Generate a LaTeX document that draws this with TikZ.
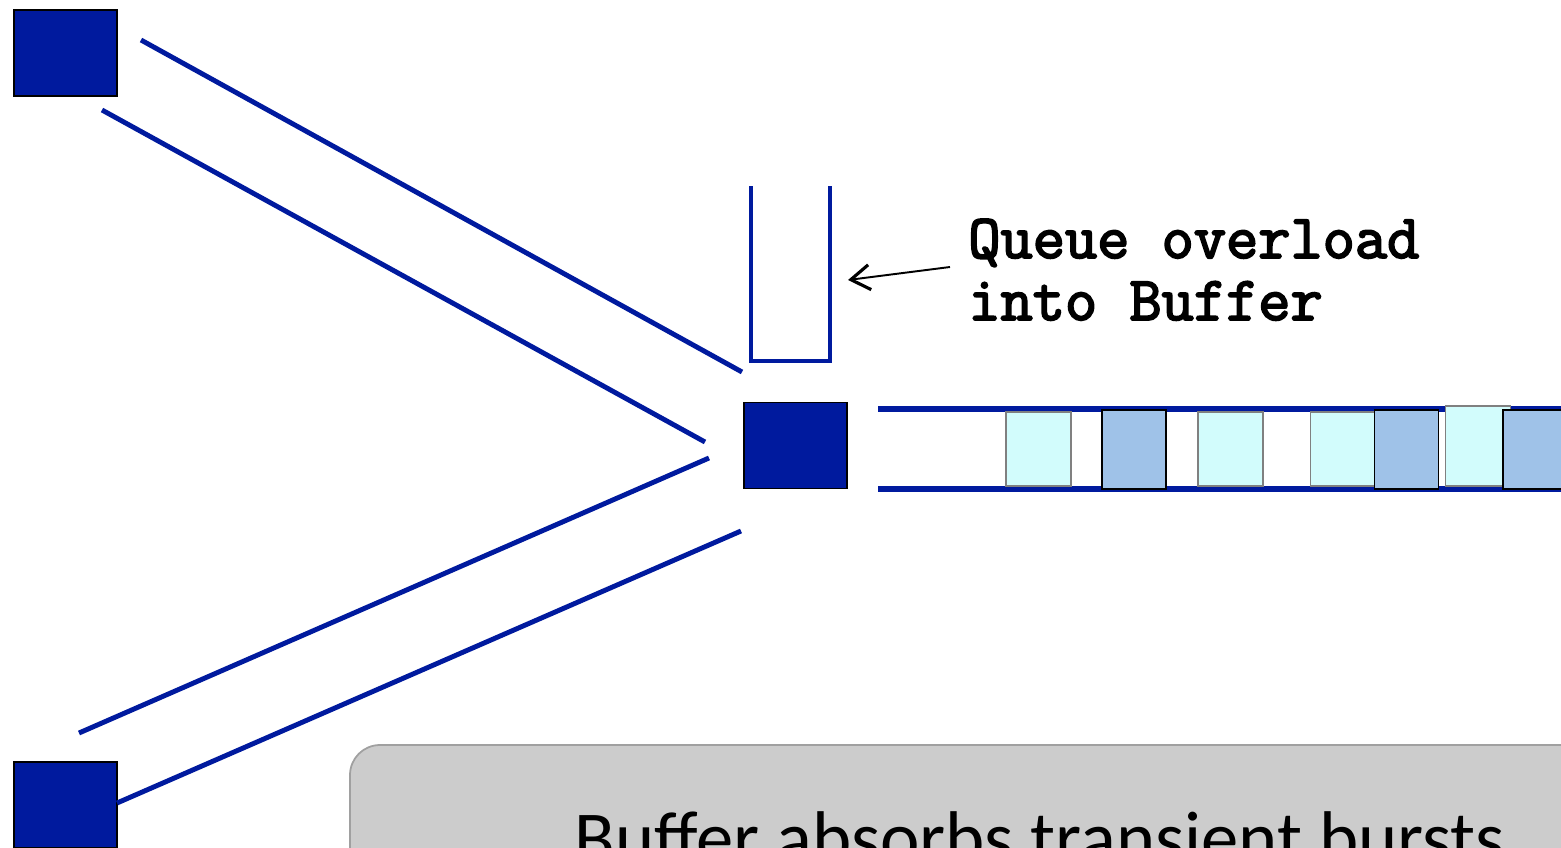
\documentclass[tikz,border=0pt]{standalone}
\usepackage{fontspec}
\usepackage{xcolor}
\usepackage{tikz}
\usetikzlibrary{arrows.meta,positioning}
\newfontfamily\notefont{Carlito}
\newfontfamily\codefont[FakeBold=3]{Latin Modern Mono}
\definecolor{netNavy}{HTML}{001A9E}
\definecolor{netCyan}{HTML}{D2FCFC}
\definecolor{netBlue}{HTML}{9FC2E8}
\definecolor{netGray}{HTML}{CCCCCC}
\definecolor{netEdge}{HTML}{A0A0A0}
\tikzset{
  host/.style={rectangle, draw=black, line width=0.9pt, fill=netNavy, inner sep=0pt, minimum width=2.06cm, minimum height=1.72cm},
  link/.style={draw=netNavy, line width=2.8pt},
  pipe/.style={draw=netNavy, line width=3pt},
  pktlight/.style={rectangle, draw=gray, line width=0.8pt, fill=netCyan, inner sep=0pt, minimum width=1.3cm, minimum height=1.48cm},
  pktdark/.style={rectangle, draw=black, line width=1pt, fill=netBlue, inner sep=0pt, minimum width=1.28cm, minimum height=1.58cm},
  note/.style={font=\codefont\fontsize{35.6}{35.3}\selectfont, align=left, inner sep=0pt},
  callout/.style={-{Straight Barb[length=0.38cm,width=0.5cm,line width=1.8pt]}, line width=1.1pt, draw=black},
  banner/.style={draw=netEdge, line width=1pt, fill=netGray, rounded corners=0.6cm}
}
\begin{document}
\begin{tikzpicture}[x=0.02cm, y=-0.02cm]
\useasboundingbox (0,0) rectangle (1561,848);
\clip (0,0) rectangle (1561,848);
\node[host] (hosta) at (65.5,53) {};
\node[host] (hostb) at (65.5,805) {};
\node[host] (switch) at (795.5,445.5) {};
\coordinate (a1) at (141,40);
\coordinate (a2) at (742,372);
\coordinate (a3) at (102,110);
\coordinate (a4) at (705,442);
\coordinate (b1) at (79,733);
\coordinate (b2) at (709,458);
\coordinate (b3) at (117,803);
\coordinate (b4) at (741,531);
\draw[link] (a1) -- (a2);
\draw[link] (a3) -- (a4);
\draw[link] (b1) -- (b2);
\draw[link] (b3) -- (b4);
\coordinate (qtl) at (751,186);
\coordinate (qbr) at (830,361);
\coordinate (qtr) at (830,186);
\draw[link, line width=2.5pt, line join=miter] (qtl) |- (qbr) -- (qtr);
\node[note, anchor=base west] (label) at (968,320) {Queue overload\\into Buffer};
\coordinate (tail) at (950,267);
\draw[callout] (tail) -- (848,280);
\coordinate (p1) at (878,409);
\coordinate (p2) at (1565,409);
\coordinate (p3) at (878,489);
\coordinate (p4) at (1565,489);
\draw[pipe] (p1) -- (p2);
\draw[pipe] (p3) -- (p4);
\node[pktlight] (c1) at (1038.5,449) {};
\node[pktdark] (d1) at (1134,449.5) {};
\node[pktlight] (c2) at (1230.5,449) {};
\node[pktlight] (c3) at (1343,449) {};
\node[pktdark] (d2) at (1406.5,449.5) {};
\node[pktlight, minimum height=1.6cm] (c4) at (1478,446) {};
\node[pktdark] (d3) at (1535,449.5) {};
\draw[banner] (350,1000) -- (350,745) -- (1620,745) -- (1620,1000);
\node[font=\notefont\fontsize{42.5}{50}\selectfont, anchor=base] (msg) at (1040,863) {Buffer absorbs transient bursts};
\end{tikzpicture}
\end{document}
